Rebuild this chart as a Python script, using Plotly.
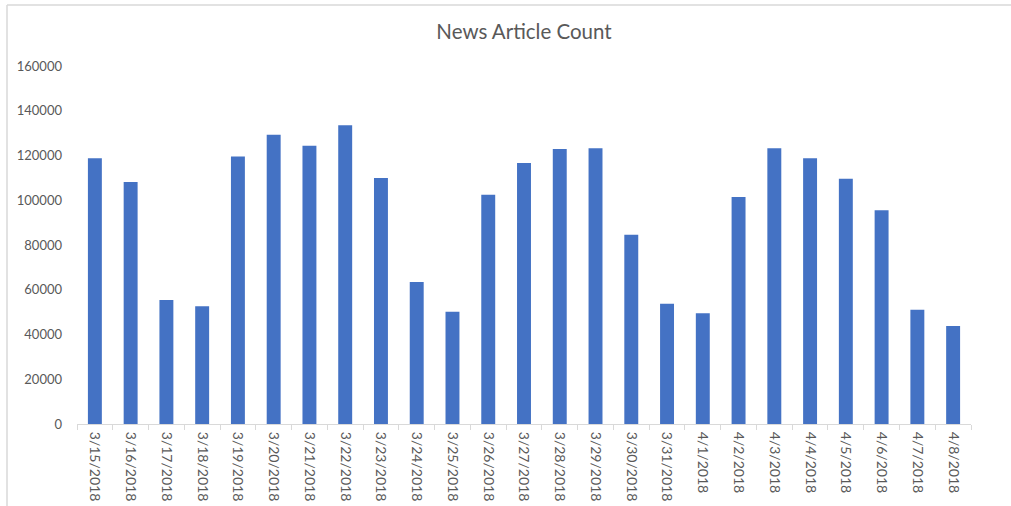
import plotly.graph_objects as go

dates = [
    "3/15/2018", "3/16/2018", "3/17/2018", "3/18/2018", "3/19/2018",
    "3/20/2018", "3/21/2018", "3/22/2018", "3/23/2018", "3/24/2018",
    "3/25/2018", "3/26/2018", "3/27/2018", "3/28/2018", "3/29/2018",
    "3/30/2018", "3/31/2018", "4/1/2018", "4/2/2018", "4/3/2018",
    "4/4/2018", "4/5/2018", "4/6/2018", "4/7/2018", "4/8/2018",
]
article_counts = [
    118800, 108200, 55400, 52600, 119500,
    129300, 124400, 133500, 110000, 63500,
    50200, 102500, 116600, 122900, 123200,
    84600, 53700, 49500, 101500, 123200,
    118800, 109600, 95500, 51100, 43800,
]
y_ticks = [0, 20000, 40000, 60000, 80000, 100000, 120000, 140000, 160000]

W, H = 1011, 506
L, R, T, B = 77, 40, 66, 82
plot_w = W - L - R
plot_h = H - T - B

def px_x(px):
    return (px - L) / plot_w

def px_y(py):
    return (H - B - py) / plot_h

fig = go.Figure(
    go.Bar(
        x=dates,
        y=article_counts,
        marker=dict(color="#4472C4", line=dict(width=0)),
    )
)

fig.update_layout(
    width=W,
    height=H,
    margin=dict(l=L, r=R, t=T, b=B, pad=0),
    paper_bgcolor="white",
    plot_bgcolor="white",
    bargap=0.61,
    showlegend=False,
    font=dict(family="Lato, 'Open Sans', sans-serif", color="#595959"),
    title=dict(
        text="News Article Count",
        x=0.5,
        xanchor="center",
        xref="paper",
        y=1 - 32 / H,
        yanchor="middle",
        font=dict(size=20.5, color="#595959"),
    ),
    xaxis=dict(
        type="category",
        automargin=False,
        tickangle=90,
        tickson="boundaries",
        ticks="outside",
        ticklen=5,
        tickcolor="#d9d9d9",
        showline=True,
        linecolor="#d9d9d9",
        linewidth=1,
        showgrid=False,
        ticklabelstandoff=4,
        tickfont=dict(size=14, color="#595959"),
    ),
    yaxis=dict(
        range=[0, 160000],
        automargin=False,
        tickvals=y_ticks,
        ticktext=[str(v) for v in y_ticks],
        showgrid=False,
        zeroline=False,
        showline=False,
        ticks="",
        ticklabelstandoff=14,
        tickfont=dict(size=13, color="#595959"),
    ),
    shapes=[
        dict(type="line", xref="paper", yref="paper",
             x0=px_x(7), x1=px_x(W + 2), y0=px_y(5), y1=px_y(5),
             line=dict(color="#d9d9d9", width=1.5)),
        dict(type="line", xref="paper", yref="paper",
             x0=px_x(7), x1=px_x(7), y0=px_y(5), y1=px_y(H + 2),
             line=dict(color="#d9d9d9", width=1.5)),
    ],
)

fig.write_html("out.html")
